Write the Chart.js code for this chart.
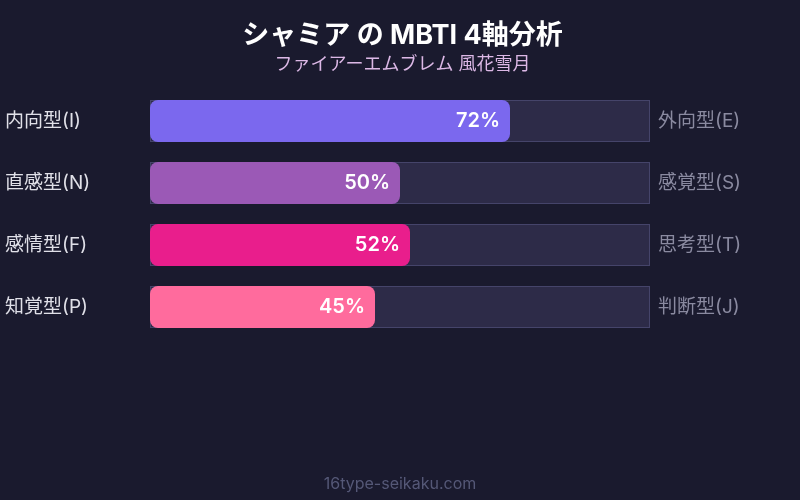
<!DOCTYPE html>
<html>
<head>
<meta charset="utf-8">
<script src="https://cdn.jsdelivr.net/npm/chart.js@4/dist/chart.umd.min.js"></script>
<style>
  html, body { margin: 0; padding: 0; background: #1a1a2e; }
  #wrap { width: 800px; height: 500px; }
</style>
</head>
<body>
<div id="wrap"><canvas id="myChart"></canvas></div>
<script>
var leftLabels = ['内向型(I)', '直感型(N)', '感情型(F)', '知覚型(P)'];
var rightLabels = ['外向型(E)', '感覚型(S)', '思考型(T)', '判断型(J)'];
var scores = [72, 50, 52, 45];
var trackValues = [100, 100, 100, 100];
var barColors = ['#7b68ee', '#9b59b6', '#e91e8c', '#ff6b9d'];

var fontFamily = "Inter, 'Noto Sans CJK JP', sans-serif";

// percent text at the end of each bar + footer text
var labelPlugin = {
    id: 'labelPlugin',
    afterDatasetsDraw: function (chart) {
        var c = chart.ctx;
        var meta = chart.getDatasetMeta(0);
        c.save();
        c.font = '600 20px ' + fontFamily;
        c.fillStyle = '#ffffff';
        c.textAlign = 'right';
        c.textBaseline = 'middle';
        meta.data.forEach(function (bar, i) {
            c.fillText(scores[i] + '%', bar.x - 10, bar.y);
        });
        c.font = '16px ' + fontFamily;
        c.fillStyle = '#555877';
        c.textAlign = 'center';
        c.fillText('16type-seikaku.com', chart.width / 2, 484);
        c.restore();
    }
};

var ctx = document.getElementById('myChart');
var myChart = new Chart(ctx, {
    type: 'bar',
    data: {
        labels: leftLabels,
        datasets: [{
            data: scores,
            backgroundColor: barColors,
            borderRadius: 8,
            borderSkipped: false,
            yAxisID: 'y'
        }, {
            data: trackValues,
            backgroundColor: '#2d2b48',
            borderColor: '#45446a',
            borderWidth: 1,
            borderSkipped: false,
            yAxisID: 'y'
        }]
    },
    options: {
        indexAxis: 'y',
        responsive: true,
        maintainAspectRatio: false,
        animation: false,
        layout: { padding: { left: 5, right: 0, top: 0, bottom: 162 } },
        datasets: {
            bar: { grouped: false, categoryPercentage: 1, barPercentage: 0.68 }
        },
        scales: {
            x: { display: false, min: 0, max: 100 },
            y: {
                position: 'left',
                grid: { display: false },
                border: { display: false },
                afterFit: function (axis) { axis.width = 145; },
                ticks: {
                    crossAlign: 'far',
                    color: '#e0e0e8',
                    font: { size: 19, family: fontFamily }
                }
            },
            y2: {
                position: 'right',
                grid: { display: false },
                border: { display: false },
                afterFit: function (axis) { axis.width = 150; },
                ticks: {
                    padding: 0,
                    color: '#8a8aa0',
                    font: { size: 19, family: fontFamily },
                    callback: function (v, i) { return rightLabels[i]; }
                },
                labels: rightLabels
            }
        },
        plugins: {
            legend: { display: false },
            tooltip: { enabled: false },
            title: {
                display: true,
                text: 'シャミア の MBTI 4軸分析',
                color: '#ffffff',
                font: { size: 27, weight: 'bold', family: fontFamily },
                padding: { top: 20, bottom: 0 }
            },
            subtitle: {
                display: true,
                text: 'ファイアーエムブレム 風花雪月',
                color: '#dcb8e6',
                font: { size: 18, family: fontFamily },
                padding: { top: 1, bottom: 15 }
            }
        }
    },
    plugins: [labelPlugin]
});
</script>
</body>
</html>
